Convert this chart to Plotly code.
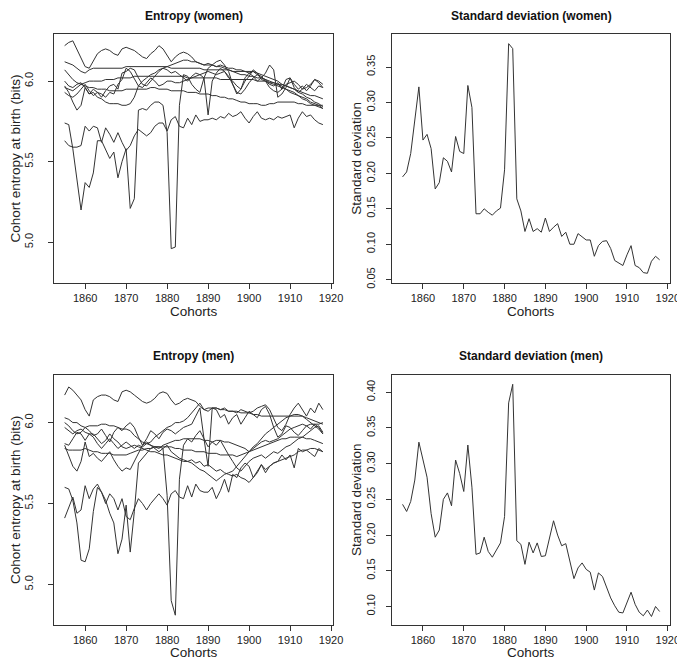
import plotly.graph_objects as go

years = list(range(1855, 1919))

# --- entropy, women (9 series) ---
ent_w1 = [6.22, 6.24, 6.25, 6.20, 6.14, 6.09, 6.08, 6.13, 6.17, 6.19,
          6.20, 6.19, 6.17, 6.16, 6.20, 6.21, 6.20, 6.19, 6.17, 6.15,
          6.14, 6.17, 6.19, 6.22, 6.20, 6.16, 6.12, 6.15, 6.17, 6.18,
          6.17, 6.15, 6.12, 6.11, 6.10, 6.11, 6.10, 6.09, 6.10, 6.09,
          6.08, 6.08, 6.07, 6.07, 6.06, 6.05, 6.06, 6.04, 6.02, 6.01,
          5.99, 5.98, 5.97, 5.96, 5.95, 5.93, 5.92, 5.91, 5.90, 5.89,
          5.87, 5.86, 5.85, 5.83]
ent_w2 = [6.12, 6.11, 6.10, 6.08, 6.06, 6.05, 6.07, 6.08, 6.08, 6.08,
          6.08, 6.08, 6.08, 6.08, 6.08, 6.09, 6.09, 6.09, 6.09, 6.09,
          6.09, 6.09, 6.09, 6.09, 6.09, 6.09, 6.08, 6.08, 6.08, 6.08,
          6.08, 6.08, 6.08, 6.08, 6.07, 6.07, 6.07, 6.07, 6.07, 6.07,
          6.07, 6.06, 6.06, 6.06, 6.06, 6.06, 6.06, 6.05, 6.04, 6.03,
          6.02, 6.01, 6.00, 5.98, 5.97, 5.96, 5.95, 5.93, 5.92, 5.90,
          5.89, 5.87, 5.86, 5.84]
ent_w3 = [6.07, 6.04, 6.01, 5.99, 5.98, 5.99, 6.00, 6.00, 6.00, 6.00,
          6.01, 6.01, 6.01, 6.02, 6.02, 6.02, 6.02, 6.03, 6.03, 6.03,
          6.03, 6.03, 6.03, 6.03, 6.03, 6.03, 6.03, 6.03, 6.03, 6.03,
          6.02, 6.02, 6.02, 6.02, 6.02, 6.02, 6.02, 6.02, 6.01, 6.01,
          6.01, 6.01, 6.01, 6.01, 6.01, 6.01, 6.01, 6.00, 6.00, 6.00,
          5.99, 5.99, 5.98, 5.98, 5.97, 5.96, 5.95, 5.94, 5.93, 5.92,
          5.91, 5.91, 5.90, 5.89]
ent_w4 = [6.00, 5.97, 5.96, 5.98, 5.99, 5.96, 5.92, 5.95, 5.93, 5.90,
          5.94, 5.97, 5.98, 5.95, 6.05, 6.06, 6.08, 6.07, 6.02, 5.98,
          5.97, 6.00, 6.03, 6.06, 6.08, 6.07, 6.05, 6.06, 6.04, 6.02,
          6.00, 6.03, 6.05, 6.04, 6.02, 5.79, 6.00, 6.05, 6.08, 6.06,
          6.02, 6.00, 5.97, 5.95, 6.00, 6.03, 6.07, 6.05, 6.01, 6.00,
          5.98, 5.97, 5.99, 5.95, 6.01, 6.02, 5.96, 5.93, 5.95, 5.98,
          5.96, 5.94, 5.97, 5.96]
ent_w5 = [5.96, 5.95, 5.94, 5.96, 5.98, 5.97, 5.96, 5.96, 5.95, 5.95,
          5.95, 5.94, 5.94, 5.94, 5.94, 5.95, 5.95, 5.95, 5.95, 5.95,
          5.95, 5.96, 5.96, 5.95, 5.95, 5.95, 5.94, 5.94, 5.94, 5.94,
          5.93, 5.93, 5.93, 5.92, 5.92, 5.92, 5.91, 5.91, 5.90, 5.90,
          5.89, 5.89, 5.88, 5.87, 5.87, 5.86, 5.86, 5.86, 5.85, 5.85,
          5.86, 5.86, 5.87, 5.87, 5.87, 5.87, 5.87, 5.86, 5.86, 5.85,
          5.85, 5.85, 5.85, 5.85]
ent_w6 = [5.97, 5.93, 5.87, 5.82, 5.85, 5.96, 5.92, 5.93, 5.90, 5.89,
          5.87, 5.86, 5.86, 5.86, 5.85, 5.85, 5.86, 5.90, 5.97, 6.00,
          6.02, 6.04, 6.05, 6.07, 6.08, 6.09, 6.10, 6.11, 6.12, 6.13,
          6.13, 6.12, 6.12, 6.11, 6.10, 6.10, 6.10, 6.09, 6.09, 6.08,
          6.07, 6.06, 6.05, 6.04, 6.04, 6.03, 6.03, 6.02, 6.02, 6.01,
          6.00, 5.99, 5.98, 5.97, 5.95, 5.94, 5.93, 5.91, 5.89, 5.88,
          5.86, 5.85, 5.84, 5.83]
ent_w7 = [5.93, 5.91, 5.90, 5.92, 5.95, 5.98, 5.94, 5.91, 5.93, 5.92,
          5.90, 5.93, 5.92, 5.98, 6.01, 6.08, 6.06, 6.01, 5.97, 5.96,
          5.99, 6.02, 6.00, 5.97, 5.98, 6.00, 6.00, 5.99, 5.99, 6.00,
          6.01, 6.02, 6.03, 6.04, 6.05, 6.06, 6.05, 6.04, 6.05, 6.06,
          6.03, 5.98, 5.93, 5.92, 5.95, 5.99, 6.02, 6.04, 6.03, 6.00,
          5.96, 5.94, 5.93, 5.95, 5.98, 5.99, 6.00, 5.98, 5.95, 5.96,
          5.98, 6.01, 6.00, 5.98]
ent_w8 = [5.74, 5.73, 5.58, 5.38, 5.20, 5.37, 5.34, 5.43, 5.63, 5.63,
          5.58, 5.52, 5.56, 5.40, 5.50, 5.58, 5.21, 5.27, 5.82, 5.83,
          5.82, 5.85, 5.87, 5.87, 5.85, 5.68, 4.96, 4.97, 5.85, 6.04,
          6.03, 5.98, 5.95, 5.93, 6.02, 6.08, 6.10, 6.12, 6.13, 6.10,
          6.06, 5.98, 5.92, 5.95, 6.02, 6.05, 6.03, 6.00, 6.02, 6.05,
          6.10, 6.07, 5.90, 5.92, 5.96, 6.02, 5.98, 5.95, 5.97, 5.94,
          5.97, 6.01, 5.99, 5.96]
ent_w9 = [5.63, 5.60, 5.59, 5.59, 5.60, 5.72, 5.69, 5.72, 5.71, 5.62,
          5.71, 5.67, 5.62, 5.68, 5.62, 5.57, 5.60, 5.66, 5.70, 5.68,
          5.66, 5.68, 5.72, 5.74, 5.74, 5.69, 5.76, 5.78, 5.72, 5.71,
          5.77, 5.73, 5.79, 5.75, 5.76, 5.76, 5.77, 5.76, 5.78, 5.77,
          5.80, 5.78, 5.79, 5.81, 5.77, 5.74, 5.78, 5.81, 5.77, 5.76,
          5.77, 5.76, 5.78, 5.77, 5.78, 5.79, 5.71, 5.77, 5.81, 5.78,
          5.79, 5.76, 5.74, 5.73]

# --- entropy, men (9 series) ---
ent_m1 = [6.17, 6.22, 6.20, 6.17, 6.14, 6.08, 6.04, 6.14, 6.16, 6.17,
          6.17, 6.16, 6.14, 6.13, 6.19, 6.20, 6.19, 6.17, 6.15, 6.13,
          6.12, 6.13, 6.15, 6.18, 6.19, 6.18, 6.14, 6.11, 6.12, 6.14,
          6.15, 6.14, 6.13, 6.10, 6.08, 6.07, 6.09, 6.09, 6.08, 6.09,
          6.07, 6.07, 6.06, 6.08, 6.07, 6.06, 6.07, 6.09, 6.10, 6.11,
          6.08, 6.03, 5.97, 5.95, 5.99, 6.05, 6.09, 6.12, 6.08, 6.04,
          6.09, 6.06, 6.12, 6.08]
ent_m2 = [6.03, 6.02, 6.00, 6.00, 5.98, 5.97, 5.98, 5.98, 5.98, 5.99,
          5.99, 5.98, 5.98, 5.97, 5.96, 5.96, 5.95, 5.92, 5.90, 5.88,
          5.87, 5.88, 5.91, 5.93, 5.95, 5.97, 5.98, 6.00, 6.00, 6.01,
          6.03, 6.06, 6.09, 6.12, 6.08, 6.09, 6.09, 6.09, 6.08, 6.08,
          6.07, 6.07, 6.07, 6.06, 6.06, 6.06, 6.05, 6.05, 6.04, 6.04,
          6.04, 6.04, 6.04, 6.04, 6.04, 6.04, 6.04, 6.04, 6.04, 6.03,
          6.02, 6.01, 6.00, 5.99]
ent_m3 = [6.00, 5.98, 5.95, 5.93, 5.94, 5.97, 5.95, 5.92, 5.93, 5.96,
          5.92, 5.88, 5.94, 5.97, 5.95, 5.98, 6.00, 5.97, 5.91, 5.86,
          5.90, 5.95, 5.93, 5.90, 5.94, 5.96, 5.95, 5.93, 5.95, 5.97,
          5.98, 5.99, 6.04, 6.09, 5.90, 5.73, 6.09, 6.08, 6.03, 6.05,
          5.99, 6.03, 6.05, 5.99, 6.03, 6.07, 6.05, 6.03, 6.08, 6.10,
          6.05, 5.97, 5.91, 5.93, 5.98, 5.97, 5.94, 5.92, 5.95, 5.98,
          5.96, 5.99, 5.97, 5.93]
ent_m4 = [5.87, 5.86, 5.90, 5.94, 5.93, 5.89, 5.93, 5.91, 5.87, 5.84,
          5.87, 5.90, 5.87, 5.84, 5.86, 5.88, 5.86, 5.84, 5.86, 5.85,
          5.87, 5.86, 5.85, 5.84, 5.86, 5.87, 5.88, 5.89, 5.89, 5.90,
          5.90, 5.90, 5.90, 5.90, 5.89, 5.89, 5.88, 5.89, 5.89, 5.88,
          5.88, 5.87, 5.86, 5.85, 5.84, 5.82, 5.84, 5.86, 5.88, 5.89,
          5.88, 5.89, 5.90, 5.92, 5.94, 5.96, 5.97, 5.98, 5.99, 5.98,
          5.99, 5.99, 5.99, 6.00]
ent_m5 = [5.86, 5.80, 5.73, 5.70, 5.76, 5.88, 5.79, 5.81, 5.78, 5.76,
          5.79, 5.82, 5.77, 5.73, 5.70, 5.72, 5.71, 5.76, 5.82, 5.86,
          5.88, 5.86, 5.84, 5.82, 5.84, 5.86, 5.82, 5.80, 5.78, 5.77,
          5.76, 5.77, 5.75, 5.76, 5.73, 5.74, 5.72, 5.70, 5.71, 5.69,
          5.68, 5.67, 5.68, 5.66, 5.65, 5.63, 5.66, 5.70, 5.74, 5.71,
          5.73, 5.75, 5.76, 5.77, 5.78, 5.79, 5.80, 5.82, 5.83, 5.83,
          5.84, 5.84, 5.83, 5.82]
ent_m6 = [5.84, 5.83, 5.83, 5.83, 5.83, 5.84, 5.83, 5.82, 5.82, 5.81,
          5.81, 5.81, 5.80, 5.80, 5.80, 5.80, 5.81, 5.82, 5.83, 5.83,
          5.84, 5.84, 5.85, 5.85, 5.85, 5.85, 5.85, 5.84, 5.84, 5.83,
          5.83, 5.83, 5.82, 5.82, 5.82, 5.81, 5.81, 5.81, 5.80, 5.80,
          5.80, 5.80, 5.79, 5.80, 5.81, 5.82, 5.83, 5.84, 5.85, 5.86,
          5.87, 5.88, 5.89, 5.90, 5.90, 5.91, 5.91, 5.91, 5.91, 5.90,
          5.90, 5.89, 5.88, 5.87]
ent_m7 = [5.97, 5.95, 5.93, 5.95, 5.96, 5.94, 5.93, 5.93, 5.90, 5.87,
          5.89, 5.93, 5.90, 5.88, 5.85, 5.84, 5.85, 5.86, 5.85, 5.84,
          5.83, 5.82, 5.82, 5.81, 5.80, 5.80, 5.79, 5.78, 5.77, 5.76,
          5.76, 5.75, 5.73, 5.71, 5.70, 5.68, 5.66, 5.64, 5.66, 5.68,
          5.69, 5.70, 5.73, 5.76, 5.79, 5.82, 5.85, 5.87, 5.90, 5.93,
          5.95, 5.97, 5.99, 6.01, 6.03, 6.04, 6.05, 6.05, 6.04, 6.02,
          6.00, 5.98, 5.96, 5.93]
ent_m8 = [5.60, 5.59, 5.52, 5.38, 5.15, 5.14, 5.22, 5.45, 5.60, 5.57,
          5.52, 5.44, 5.38, 5.19, 5.28, 5.49, 5.20, 5.45, 5.75, 5.78,
          5.81, 5.84, 5.85, 5.85, 5.84, 5.55, 4.90, 4.81, 5.65, 5.86,
          5.90, 5.88, 5.92, 5.95, 5.90, 5.85, 5.88, 5.86, 5.89, 5.84,
          5.80, 5.76, 5.72, 5.70, 5.73, 5.76, 5.78, 5.79, 5.80, 5.78,
          5.80, 5.82, 5.81, 5.83, 5.85, 5.86, 5.88, 5.90, 5.91, 5.93,
          5.95, 5.97, 5.98, 5.94]
ent_m9 = [5.41, 5.47, 5.54, 5.44, 5.46, 5.61, 5.53, 5.59, 5.62, 5.57,
          5.50, 5.56, 5.53, 5.46, 5.53, 5.42, 5.40, 5.47, 5.53, 5.50,
          5.46, 5.50, 5.53, 5.56, 5.53, 5.49, 5.56, 5.58, 5.54, 5.53,
          5.61, 5.54, 5.62, 5.58, 5.57, 5.57, 5.60, 5.53, 5.58, 5.65,
          5.57, 5.68, 5.66, 5.72, 5.75, 5.73, 5.66, 5.69, 5.74, 5.69,
          5.73, 5.75, 5.76, 5.80, 5.77, 5.80, 5.72, 5.84, 5.82, 5.83,
          5.81, 5.79, 5.84, 5.82]

# --- standard deviation across series ---
sd_women = [0.195, 0.202, 0.228, 0.279, 0.322, 0.247, 0.255, 0.235, 0.178, 0.187,
            0.222, 0.217, 0.202, 0.252, 0.231, 0.228, 0.324, 0.293, 0.143, 0.143,
            0.150, 0.145, 0.141, 0.147, 0.151, 0.205, 0.383, 0.376, 0.164, 0.147,
            0.118, 0.136, 0.118, 0.122, 0.117, 0.137, 0.118, 0.124, 0.129, 0.111,
            0.117, 0.100, 0.100, 0.115, 0.110, 0.106, 0.106, 0.083, 0.098, 0.104,
            0.105, 0.094, 0.077, 0.074, 0.070, 0.085, 0.098, 0.070, 0.067, 0.060,
            0.059, 0.076, 0.083, 0.078]
sd_men = [0.243, 0.233, 0.247, 0.277, 0.330, 0.307, 0.281, 0.230, 0.197, 0.207,
          0.250, 0.259, 0.241, 0.305, 0.286, 0.261, 0.326, 0.267, 0.173, 0.175,
          0.197, 0.177, 0.169, 0.179, 0.189, 0.226, 0.385, 0.411, 0.192, 0.187,
          0.159, 0.190, 0.175, 0.189, 0.170, 0.171, 0.196, 0.220, 0.200, 0.185,
          0.188, 0.161, 0.139, 0.154, 0.161, 0.152, 0.148, 0.123, 0.147, 0.142,
          0.126, 0.112, 0.101, 0.092, 0.091, 0.105, 0.120, 0.103, 0.092, 0.087,
          0.095, 0.086, 0.100, 0.093]

women_lines = [ent_w1, ent_w2, ent_w3, ent_w4, ent_w5, ent_w6, ent_w7, ent_w8, ent_w9]
men_lines = [ent_m1, ent_m2, ent_m3, ent_m4, ent_m5, ent_m6, ent_m7, ent_m8, ent_m9]

LINE = dict(color="#333333", width=1)
FONT = "Liberation Sans, Arial, sans-serif"

fig = go.Figure()

for ys in women_lines:
    fig.add_trace(go.Scatter(x=years, y=ys, mode="lines", line=LINE, xaxis="x", yaxis="y"))
fig.add_trace(go.Scatter(x=years, y=sd_women, mode="lines", line=LINE, xaxis="x2", yaxis="y2"))
for ys in men_lines:
    fig.add_trace(go.Scatter(x=years, y=ys, mode="lines", line=LINE, xaxis="x3", yaxis="y3"))
fig.add_trace(go.Scatter(x=years, y=sd_men, mode="lines", line=LINE, xaxis="x4", yaxis="y4"))


def x_axis(domain, anchor):
    return dict(domain=domain, anchor=anchor, range=[1852.48, 1920.52],
                tickvals=[1860, 1870, 1880, 1890, 1900, 1910, 1920],
                ticks="outside", ticklen=5, tickcolor="#333",
                ticklabeloverflow="allow",
                showline=True, mirror=True, linecolor="#333", linewidth=1,
                showgrid=False, zeroline=False,
                tickfont=dict(family=FONT, size=11, color="#222"))


def y_axis(domain, anchor, rng, tickvals, fmt, standoff):
    return dict(domain=domain, anchor=anchor, range=rng, tickvals=tickvals,
                tickformat=fmt, tickangle=-90, ticklabelstandoff=standoff,
                ticks="outside", ticklen=5, tickcolor="#333",
                showline=True, mirror=True, linecolor="#333", linewidth=1,
                showgrid=False, zeroline=False,
                tickfont=dict(family=FONT, size=11, color="#222"))


left_x = [0.0686, 0.4818]
right_x = [0.5693, 0.9806]
top_y = [0.5809, 0.9607]
bot_y = [0.0579, 0.4402]

fig.update_layout(
    width=685, height=661,
    margin=dict(l=0, r=0, t=0, b=0),
    paper_bgcolor="white", plot_bgcolor="white",
    showlegend=False,
    xaxis=x_axis(left_x, "y"),
    yaxis=y_axis(top_y, "x", [4.75, 6.294], [5.0, 5.5, 6.0], ".1f", 11),
    xaxis2=x_axis(right_x, "y2"),
    yaxis2=y_axis(top_y, "x2", [0.046, 0.397], [0.05, 0.10, 0.15, 0.20, 0.25, 0.30, 0.35], ".2f", 7),
    xaxis3=x_axis(left_x, "y3"),
    yaxis3=y_axis(bot_y, "x3", [4.749, 6.296], [5.0, 5.5, 6.0], ".1f", 11),
    xaxis4=x_axis(right_x, "y4"),
    yaxis4=y_axis(bot_y, "x4", [0.074, 0.4245], [0.10, 0.15, 0.20, 0.25, 0.30, 0.35, 0.40], ".2f", 7),
)

titles = [
    ("<b>Entropy (women)</b>", 0.2752, 0.9879),
    ("<b>Standard deviation (women)</b>", 0.7752, 0.9879),
    ("<b>Entropy (men)</b>", 0.2752, 0.4690),
    ("<b>Standard deviation (men)</b>", 0.7752, 0.4690),
]
for text, x, y in titles:
    fig.add_annotation(text=text, x=x, y=y, xref="paper", yref="paper",
                       showarrow=False, xanchor="center", yanchor="middle",
                       font=dict(family=FONT, size=12, color="#111"))

for x, y in [(0.2752, 0.5370), (0.7752, 0.5370), (0.2752, 0.0165), (0.7752, 0.0165)]:
    fig.add_annotation(text="Cohorts", x=x, y=y, xref="paper", yref="paper",
                       showarrow=False, xanchor="center", yanchor="middle",
                       font=dict(family=FONT, size=13.5, color="#222"))

ytitles = [
    ("Cohort entropy at birth (bits)", 0.0110, 0.7708),
    ("Standard deviation", 0.5164, 0.7708),
    ("Cohort entropy at birth (bits)", 0.0110, 0.2496),
    ("Standard deviation", 0.5164, 0.2496),
]
for text, x, y in ytitles:
    fig.add_annotation(text=text, x=x, y=y, xref="paper", yref="paper",
                       showarrow=False, xanchor="center", yanchor="middle",
                       textangle=-90,
                       font=dict(family=FONT, size=13.5, color="#222"))

fig.write_html("out.html")
